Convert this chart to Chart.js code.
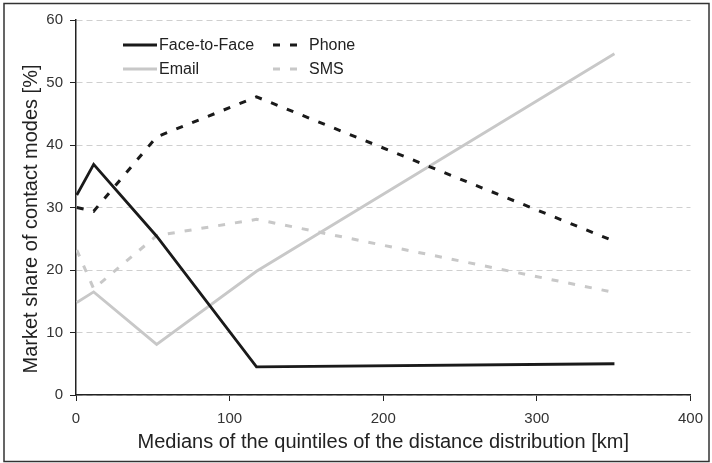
<!DOCTYPE html>
<html>
<head>
<meta charset="utf-8">
<script src="https://cdn.jsdelivr.net/npm/chart.js@4"></script>
<style>
  html, body { margin: 0; padding: 0; background: #fff; }
  #wrap { width: 712px; height: 463px; }
</style>
</head>
<body>
<div id="wrap"><canvas id="myLineChart" width="712" height="463"></canvas></div>
<script>
// medians of the quintiles [km]
var distances = [0.5, 11.5, 52.5, 117.5, 350.5];

// market share [%]
var faceToFace = [32.0, 36.9, 25.4, 4.5, 5.0];
var phone = [30.0, 29.4, 41.3, 47.7, 24.6];
var email = [14.8, 16.5, 8.1, 19.8, 54.6];
var sms = [23.2, 17.0, 25.5, 28.1, 16.4];

var xTicks = [0, 100, 200, 300, 400];
var yTicks = [0, 10, 20, 30, 40, 50, 60];

var xTitle = 'Medians of the quintiles of the distance distribution [km]';
var yTitle = 'Market share of contact modes [%]';

var fontFamily = "'Liberation Sans', Arial, sans-serif";

function points(values) {
    return distances.map(function (d, i) { return { x: d, y: values[i] }; });
}

// legend inside the plot (two columns), axis titles and the frame
var extras = {
    id: 'extras',
    afterDraw: function (chart) {
        var ctx = chart.ctx;
        var area = chart.chartArea;
        var slots = [
            { x: 123, y: 45 }, { x: 273, y: 45 },
            { x: 123, y: 69 }, { x: 273, y: 69 }
        ];
        ctx.save();
        chart.data.datasets.forEach(function (ds, k) {
            var s = slots[k];
            ctx.beginPath();
            ctx.lineWidth = 3;
            ctx.strokeStyle = ds.borderColor;
            ctx.setLineDash(ds.borderDash || []);
            ctx.moveTo(s.x, s.y);
            ctx.lineTo(s.x + 34, s.y);
            ctx.stroke();
            ctx.setLineDash([]);
            ctx.fillStyle = '#222';
            ctx.font = '16px ' + fontFamily;
            ctx.textBaseline = 'middle';
            ctx.textAlign = 'left';
            ctx.fillText(ds.label, s.x + 36, s.y + 1);
        });

        ctx.font = '20px ' + fontFamily;
        ctx.fillStyle = '#222';
        ctx.textAlign = 'center';
        ctx.textBaseline = 'middle';
        ctx.fillText(xTitle, (area.left + area.right) / 2, 442);

        ctx.save();
        ctx.translate(31, 219);
        ctx.rotate(-Math.PI / 2);
        ctx.fillText(yTitle, 0, 0);
        ctx.restore();

        ctx.lineWidth = 1.5;
        ctx.strokeStyle = '#333';
        ctx.strokeRect(4, 3.5, 705, 458);
        ctx.restore();
    }
};

var ctx = document.getElementById('myLineChart').getContext('2d');

var myLineChart = new Chart(ctx, {
    type: 'line',
    data: {
        datasets: [
            {
                label: 'Face-to-Face',
                data: points(faceToFace),
                borderColor: '#1a1a1a',
                borderWidth: 2.8,
                pointRadius: 0,
                fill: false
            },
            {
                label: 'Phone',
                data: points(phone),
                borderColor: '#1a1a1a',
                borderWidth: 3,
                borderDash: [7, 10],
                pointRadius: 0,
                fill: false
            },
            {
                label: 'Email',
                data: points(email),
                borderColor: '#c8c8c8',
                borderWidth: 2.8,
                pointRadius: 0,
                fill: false
            },
            {
                label: 'SMS',
                data: points(sms),
                borderColor: '#c8c8c8',
                borderWidth: 3,
                borderDash: [7, 10],
                pointRadius: 0,
                fill: false
            }
        ]
    },
    options: {
        responsive: false,
        animation: false,
        layout: { padding: { left: 0, right: 20, top: 20, bottom: 0 } },
        plugins: {
            legend: { display: false },
            tooltip: { enabled: false }
        },
        scales: {
            x: {
                type: 'linear',
                min: 0,
                max: 400,
                afterBuildTicks: function (axis) {
                    axis.ticks = xTicks.map(function (v) { return { value: v }; });
                },
                grid: {
                    drawOnChartArea: false,
                    drawTicks: true,
                    tickLength: 6,
                    tickColor: '#222'
                },
                border: { color: '#222', width: 1.5 },
                ticks: {
                    color: '#333',
                    font: { size: 15, family: fontFamily },
                    padding: 9,
                    maxRotation: 0
                },
                afterFit: function (axis) { axis.height = 68; }
            },
            y: {
                min: 0,
                max: 60,
                afterBuildTicks: function (axis) {
                    axis.ticks = yTicks.map(function (v) { return { value: v }; });
                },
                grid: {
                    color: '#cfcfcf',
                    lineWidth: 1,
                    tickLength: 6,
                    tickColor: '#222',
                    tickBorderDash: []
                },
                border: { color: '#222', width: 1.5, dash: [6, 4] },
                ticks: {
                    color: '#333',
                    font: { size: 15, family: fontFamily },
                    padding: 7
                },
                afterFit: function (axis) { axis.width = 76; }
            }
        }
    },
    plugins: [extras]
});
</script>
</body>
</html>
